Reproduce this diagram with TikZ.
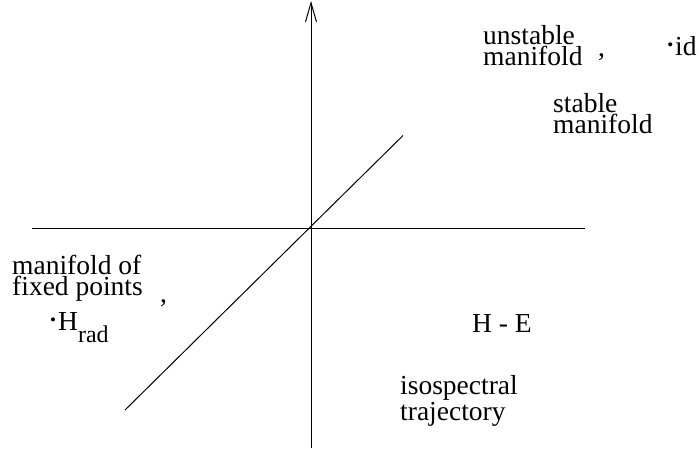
\documentclass[tikz,border=0pt]{standalone}
\usepackage{fontspec}
\setmainfont{Liberation Serif}
\usetikzlibrary{arrows.meta}
\newcommand{\smbullet}{\makebox[0pt][r]{\raisebox{4.5pt}{\fontsize{17}{17}\selectfont •}\hspace{2pt}}}
\begin{document}
\begin{tikzpicture}[x=1pt,y=1pt,
  axis/.style={line width=1pt},
  lbl/.style={inner sep=0pt, anchor=base west, align=left,
    font=\fontsize{27.5}{21}\selectfont}]
\useasboundingbox (0,0) rectangle (700,-448);
\coordinate (vb) at (311,-448);
\coordinate (vt) at (311,-1);
\coordinate (hl) at (32,-228);
\coordinate (hr) at (585,-228);
\coordinate (dl) at (125,-410);
\coordinate (dr) at (403,-135.5);
\draw[axis,-{Straight Barb[length=19pt,width=11pt,line width=1pt]}] (vb) -- (vt);
\draw[axis] (hl) -- (hr);
\draw[axis] (dl) -- (dr);
\node[lbl] (unst) at (483,-65) {unstable\\manifold};
\node[lbl] (c1) at (598,-56) {,};
\node[lbl] (id) at (675,-55) {\smbullet id};
\node[lbl] (st) at (553,-133) {stable\\manifold};
\node[lbl] (fix) at (12,-295) {manifold of\\fixed points};
\node[lbl] (c2) at (160,-302) {,};
\node[lbl] (hrad) at (58,-330) {\smbullet H\raisebox{-12pt}{\fontsize{24}{24}\selectfont rad}};
\node[lbl] (he) at (472,-332) {H - E};
\node[lbl] (iso) at (400,-420) {isospectral\\trajectory};
\end{tikzpicture}
\end{document}
